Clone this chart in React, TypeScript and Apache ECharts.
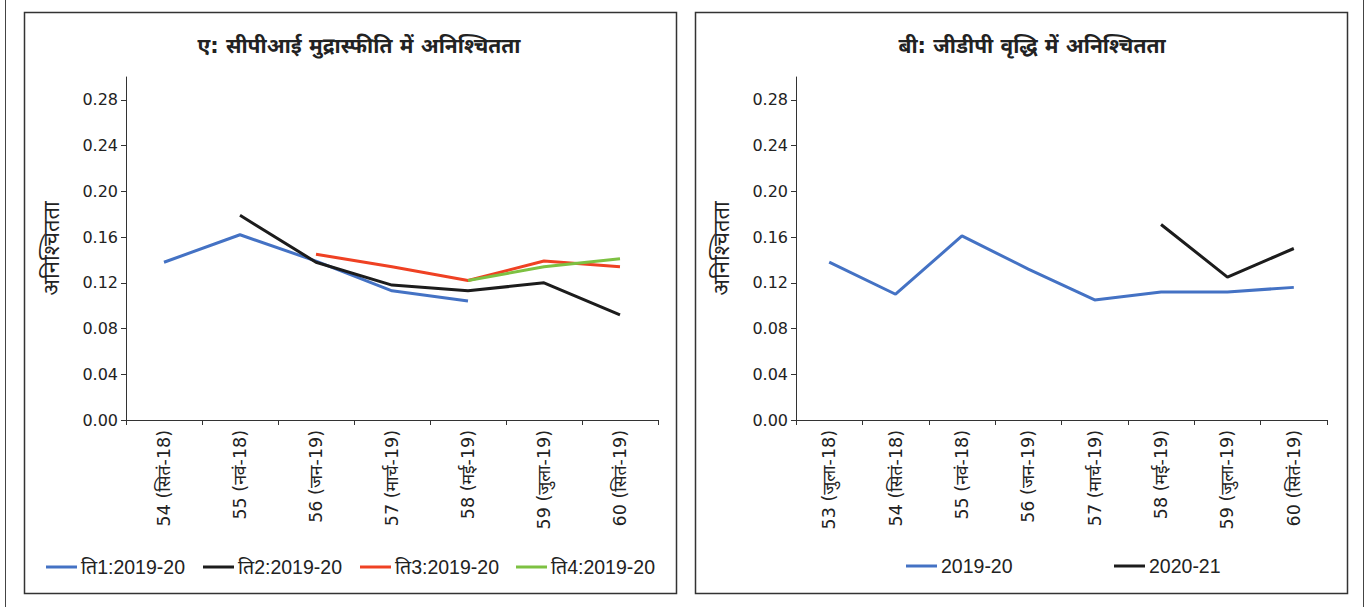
import React, { useEffect, useRef } from "react";
import * as echarts from "echarts";

const cpiCategories = ["54 (सितं-18)", "55 (नवं-18)", "56 (जन-19)", "57 (मार्च-19)", "58 (मई-19)", "59 (जुला-19)", "60 (सितं-19)"];
const cpiNames = ["ति1:2019-20", "ति2:2019-20", "ति3:2019-20", "ति4:2019-20"];
const cpiQ1 = [0.138, 0.162, 0.139, 0.113, 0.104, null, null];
const cpiQ2 = [null, 0.179, 0.138, 0.118, 0.113, 0.120, 0.092];
const cpiQ3 = [null, null, 0.145, 0.134, 0.122, 0.139, 0.134];
const cpiQ4 = [null, null, null, null, 0.122, 0.134, 0.141];

const gdpCategories = ["53 (जुला-18)", "54 (सितं-18)", "55 (नवं-18)", "56 (जन-19)", "57 (मार्च-19)", "58 (मई-19)", "59 (जुला-19)", "60 (सितं-19)"];
const gdpNames = ["2019-20", "2020-21"];
const gdp2019 = [0.138, 0.110, 0.161, 0.132, 0.105, 0.112, 0.112, 0.116];
const gdp2020 = [null, null, null, null, null, 0.171, 0.125, 0.150];

const yTicks = [0, 0.04, 0.08, 0.12, 0.16, 0.2, 0.24, 0.28];
const yName = "अनिश्चितता";
const titleA = "ए: सीपीआई मुद्रास्फीति में अनिश्चितता";
const titleB = "बी: जीडीपी वृद्धि में अनिश्चितता";

const BLUE = "#4472C4";
const BLACK = "#1c1c1c";
const RED = "#EF4123";
const GREEN = "#7DC142";
const AXIS = "#333333";
const FONT = "'DejaVu Sans', 'Noto Sans', sans-serif";
const LEGEND_FONT = "'Liberation Sans Narrow', 'Liberation Sans', 'Noto Sans', sans-serif";

function makeY(gridIndex: number) {
  return {
    type: "value",
    gridIndex,
    min: 0,
    max: 0.3,
    interval: 0.04,
    name: yName,
    nameLocation: "middle",
    nameGap: 64,
    nameTextStyle: { fontSize: 22, color: "#222", fontFamily: FONT },
    splitLine: { show: false },
    axisLine: { show: true, lineStyle: { color: AXIS, width: 1 } },
    axisTick: { show: true, length: 5, lineStyle: { color: AXIS }, customValues: yTicks },
    axisLabel: {
      customValues: yTicks,
      fontSize: 16,
      color: "#222",
      fontFamily: FONT,
      margin: 8,
      formatter: (v: number) => v.toFixed(2),
    },
  };
}

function makeX(gridIndex: number, data: string[]) {
  return {
    type: "category",
    gridIndex,
    data,
    boundaryGap: true,
    axisLine: { show: true, lineStyle: { color: AXIS, width: 1 } },
    axisTick: { show: true, length: 5, lineStyle: { color: AXIS } },
    axisLabel: {
      rotate: 90,
      interval: 0,
      fontSize: 17.5,
      color: "#222",
      fontFamily: FONT,
      margin: 10,
    },
  };
}

function lineSeries(name: string, data: (number | null)[], color: string, idx: number) {
  return {
    type: "line",
    name,
    data,
    xAxisIndex: idx,
    yAxisIndex: idx,
    symbol: "none",
    connectNulls: false,
    lineStyle: { color, width: 3 },
    itemStyle: { color },
  };
}

function legendItem(name: string, left: number, top: number) {
  return {
    data: [{ name, icon: "rect" }],
    left,
    top,
    padding: 0,
    itemWidth: 31,
    itemHeight: 3,
    itemGap: 0,
    textStyle: { fontSize: 19.5, color: "#222", fontFamily: LEGEND_FONT, padding: [0, 0, 0, -1] },
  };
}

export default function App() {
  const ref = useRef<HTMLDivElement>(null);
  useEffect(() => {
    document.body.style.margin = "0";
    const chart = echarts.init(ref.current!, null, { renderer: "svg" });
    chart.setOption({
      animation: false,
      backgroundColor: "#ffffff",
      grid: [
        { left: 126, top: 77, width: 532, height: 343 },
        { left: 796, top: 77, width: 531, height: 343 },
      ],
      xAxis: [makeX(0, cpiCategories), makeX(1, gdpCategories)],
      yAxis: [makeY(0), makeY(1)],
      legend: [
        legendItem(cpiNames[0], 46, 557),
        legendItem(cpiNames[1], 203, 557),
        legendItem(cpiNames[2], 360, 557),
        legendItem(cpiNames[3], 516, 557),
        legendItem(gdpNames[0], 906, 556),
        legendItem(gdpNames[1], 1114, 556),
      ],
      series: [
        lineSeries(cpiNames[0], cpiQ1, BLUE, 0),
        lineSeries(cpiNames[1], cpiQ2, BLACK, 0),
        lineSeries(cpiNames[2], cpiQ3, RED, 0),
        lineSeries(cpiNames[3], cpiQ4, GREEN, 0),
        lineSeries(gdpNames[0], gdp2019, BLUE, 1),
        lineSeries(gdpNames[1], gdp2020, BLACK, 1),
      ],
      graphic: [
        { type: "line", shape: { x1: 5.5, y1: 0, x2: 5.5, y2: 607 }, style: { stroke: "#444", lineWidth: 1 }, silent: true },
        { type: "line", shape: { x1: 1363.5, y1: 0, x2: 1363.5, y2: 607 }, style: { stroke: "#444", lineWidth: 1 }, silent: true },
        { type: "rect", shape: { x: 24.5, y: 12.5, width: 652, height: 581 }, style: { fill: "none", stroke: "#333", lineWidth: 1.5 }, silent: true },
        { type: "rect", shape: { x: 695.5, y: 12.5, width: 652, height: 581 }, style: { fill: "none", stroke: "#333", lineWidth: 1.5 }, silent: true },
        {
          type: "text", x: 359, y: 46,
          style: { text: titleA, fontSize: 21, fontWeight: "bold", fill: "#222", textAlign: "center", textVerticalAlign: "middle", fontFamily: FONT },
          silent: true,
        },
        {
          type: "text", x: 1032, y: 46,
          style: { text: titleB, fontSize: 21, fontWeight: "bold", fill: "#222", textAlign: "center", textVerticalAlign: "middle", fontFamily: FONT },
          silent: true,
        },
      ],
    });
    return () => chart.dispose();
  }, []);
  return <div ref={ref} style={{ position: "absolute", left: 0, top: 0, width: 1367, height: 607 }} />;
}
